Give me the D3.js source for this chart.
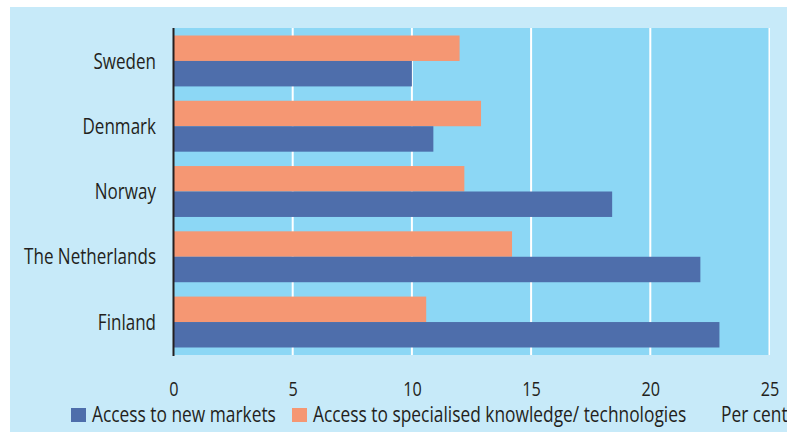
<!DOCTYPE html>
<html>
<head>
<meta charset="utf-8">
<script src="https://cdn.jsdelivr.net/npm/d3@7"></script>
<style>
  html, body { margin: 0; padding: 0; background: #ffffff; }
  svg { display: block; }
  text { font-family: "Open Sans", "Noto Sans", sans-serif; fill: #231f20; }
</style>
</head>
<body>
<svg id="chart" width="787" height="432"></svg>
<script>
const categories = ["Sweden", "Denmark", "Norway", "The Netherlands", "Finland"];
const seriesNames = ["Access to specialised knowledge/ technologies", "Access to new markets"];
const knowledgeValues = [12.0, 12.9, 12.2, 14.2, 10.6];
const marketsValues = [10.0, 10.9, 18.4, 22.1, 22.9];
const xTicks = [0, 5, 10, 15, 20, 25];
const legendLabels = ["Access to new markets", "Access to specialised knowledge/ technologies"];
const unitLabel = "Per cent";

const colors = {
  "Access to new markets": "#4e6eab",
  "Access to specialised knowledge/ technologies": "#f59773"
};

const W = 787, H = 432;
const plot = { left: 173.5, right: 769.5, top: 28, bottom: 355 };

const svg = d3.select("#chart");

// outer background
svg.append("rect").attr("x", 10).attr("y", 7).attr("width", W - 10).attr("height", H - 7).attr("fill", "#c7eaf9");

const x = d3.scaleLinear().domain([0, 25]).range([plot.left, plot.right]);
const y = d3.scaleBand().domain(categories).range([plot.top, plot.bottom]).paddingInner(0.22).paddingOuter(0.115);
const ySub = d3.scaleBand().domain(seriesNames).range([0, y.bandwidth()]).padding(0);

// plot area
svg.append("rect").attr("x", plot.left).attr("y", plot.top)
  .attr("width", x(25) - plot.left + 1.5).attr("height", plot.bottom - plot.top).attr("fill", "#8cd7f5");

// gridlines
svg.append("g").selectAll("line").data(xTicks.filter(d => d > 0)).join("line")
  .attr("x1", d => x(d)).attr("x2", d => x(d))
  .attr("y1", plot.top).attr("y2", plot.bottom)
  .attr("stroke", "#ffffff").attr("stroke-width", 2);

// bars
const data = categories.map((c, i) => ({
  cat: c,
  values: [
    { s: seriesNames[0], v: knowledgeValues[i] },
    { s: seriesNames[1], v: marketsValues[i] }
  ]
}));

const groups = svg.append("g").selectAll("g").data(data).join("g")
  .attr("transform", d => `translate(0,${y(d.cat)})`);
groups.selectAll("rect").data(d => d.values).join("rect")
  .attr("x", x(0))
  .attr("y", d => ySub(d.s))
  .attr("width", d => x(d.v) - x(0))
  .attr("height", ySub.bandwidth())
  .attr("fill", d => colors[d.s]);

// x axis tick labels
const xAxis = d3.axisBottom(x).tickValues(xTicks).tickSize(0).tickPadding(0).tickFormat(d3.format("d"));
const gx = svg.append("g").attr("transform", `translate(0,${plot.bottom})`).call(xAxis);
gx.select(".domain").remove();
gx.selectAll("text").attr("y", 41).attr("dy", 0)
  .style("font-size", "20px").style("font-family", null).attr("fill", "#231f20");

// y axis
const yAxis = d3.axisLeft(y).tickSize(0).tickPadding(0);
const gy = svg.append("g").attr("transform", `translate(${plot.left - 17.5},0)`).call(yAxis);
gy.select(".domain").remove();
gy.selectAll("text").attr("dy", "0.36em").attr("x", 0)
  .style("font-size", "21px").style("font-family", null).attr("fill", "#231f20");

// vertical axis line
svg.append("line").attr("x1", plot.left).attr("x2", plot.left)
  .attr("y1", plot.top).attr("y2", plot.bottom + 1)
  .attr("stroke", "#231f20").attr("stroke-width", 2);

// legend
const legendPos = [{ sx: 71, tx: 92 }, { sx: 292, tx: 313 }];
const legend = svg.append("g").selectAll("g").data(legendLabels).join("g");
legend.append("rect")
  .attr("x", (d, i) => legendPos[i].sx).attr("y", 408)
  .attr("width", 15).attr("height", 14)
  .attr("fill", d => colors[d]);
legend.append("text")
  .attr("x", (d, i) => legendPos[i].tx).attr("y", 422)
  .style("font-size", "21.4px")
  .text(d => d);

svg.append("text").attr("x", 721).attr("y", 422).style("font-size", "21.4px").text(unitLabel);

// condense all text horizontally (the reference uses a condensed humanist face)
const probe = gy.selectAll("text").filter(d => d === "The Netherlands").node();
const k = probe ? 132 / probe.getComputedTextLength() : 0.81;
svg.selectAll("text").each(function() {
  const t = d3.select(this);
  const tx = +t.attr("x") || 0;
  const ty = +t.attr("y") || 0;
  t.attr("x", 0).attr("y", 0).attr("transform", `translate(${tx},${ty}) scale(${k},1)`);
});
</script>
</body>
</html>
